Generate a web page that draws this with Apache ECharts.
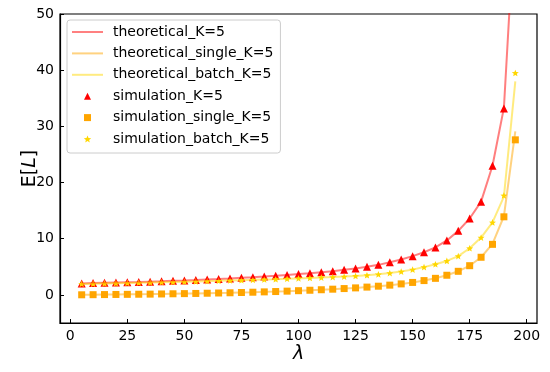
<!DOCTYPE html>
<html>
<head>
<meta charset="utf-8">
<script src="https://cdn.jsdelivr.net/npm/echarts@6/dist/echarts.min.js"></script>
<style>html,body{margin:0;padding:0;background:#fff}#c{width:550px;height:372px}</style>
</head>
<body>
<div id="c"></div>
<script>
const lambdas = [5,10,15,20,25,30,35,40,45,50,55,60,65,70,75,80,85,90,95,100,105,110,115,120,125,130,135,140,145,150,155,160,165,170,175,180,185,190,195];

const theoreticalK5 = [2.05,2.1,2.15,2.2,2.25,2.3,2.36,2.42,2.5,2.57,2.65,2.74,2.83,2.93,3.04,3.15,3.27,3.4,3.55,3.7,3.86,4.03,4.23,4.46,4.72,5.0,5.35,5.8,6.3,6.9,7.6,8.45,9.7,11.4,13.6,16.6,23.0,33.3,69];
const theoreticalSingleK5 = [0.02,0.04,0.06,0.08,0.1,0.12,0.14,0.17,0.2,0.23,0.26,0.3,0.34,0.38,0.43,0.48,0.54,0.6,0.67,0.75,0.83,0.92,1.02,1.13,1.25,1.39,1.55,1.74,1.96,2.22,2.55,2.95,3.5,4.2,5.2,6.7,9.1,14.0,29.1];
const theoreticalBatchK5 = [1.96,2.0,2.04,2.08,2.12,2.16,2.2,2.25,2.3,2.35,2.4,2.45,2.5,2.56,2.62,2.68,2.74,2.8,2.87,2.94,3.01,3.09,3.17,3.26,3.37,3.5,3.66,3.88,4.15,4.5,4.95,5.45,6.05,6.9,8.3,10.2,12.9,17.5,38.0];

const simulationK5 = [2.05,2.1,2.15,2.2,2.25,2.3,2.36,2.42,2.5,2.57,2.65,2.74,2.83,2.93,3.04,3.15,3.27,3.4,3.55,3.7,3.86,4.03,4.23,4.46,4.72,5.0,5.35,5.8,6.3,6.9,7.6,8.45,9.7,11.4,13.6,16.6,23.0,33.2,null];
const simulationSingleK5 = [0.02,0.04,0.06,0.08,0.1,0.12,0.14,0.17,0.2,0.23,0.26,0.3,0.34,0.38,0.43,0.48,0.54,0.6,0.67,0.75,0.83,0.92,1.02,1.13,1.25,1.39,1.55,1.74,1.96,2.22,2.55,2.95,3.5,4.2,5.2,6.7,9.0,13.9,27.6];
const simulationBatchK5 = [1.96,2.0,2.04,2.08,2.12,2.16,2.2,2.25,2.3,2.35,2.4,2.45,2.5,2.56,2.62,2.68,2.74,2.8,2.87,2.94,3.01,3.09,3.17,3.26,3.37,3.5,3.66,3.88,4.15,4.5,4.95,5.45,6.05,6.9,8.3,10.2,12.9,17.7,39.5];

const xTicks = [0,25,50,75,100,125,150,175,200];
const yTicks = [0,10,20,30,40,50];

const pairs = ys => lambdas.map((x,i) => [x, ys[i]]).filter(p => p[1] !== null);
const FONT = 'DejaVu Sans';
const starPath = 'path://M50,0L62.93,32.2L97.55,34.55L70.92,56.8L79.39,90.45L50,72L20.61,90.45L29.08,56.8L2.45,34.55L37.07,32.2Z';
const triPath = 'path://M50,0L100,100L0,100Z';
const sqPath = 'path://M0,0L100,0L100,100L0,100Z';
const linePath = 'path://M0,0L310,0L310,20L0,20Z';

const chart = echarts.init(document.getElementById('c'), null, {renderer:'canvas'});
chart.setOption({
  animation: false,
  backgroundColor: '#fff',
  grid: {left: 60, right: 13, top: 14, bottom: 49, show: true, borderColor: '#000', borderWidth: 1.2, backgroundColor: 'transparent'},
  xAxis: {
    type: 'value', min: -4.5, max: 204.5,
    name: 'λ', nameLocation: 'middle', nameGap: 22, nameMoveOverlap: false,
    nameTextStyle: {fontFamily: FONT, fontSize: 19, fontStyle: 'italic', color: '#000'},
    axisLine: {show: true, onZero: false, lineStyle: {color: '#000', width: 1.2}},
    axisTick: {show: true, inside: true, length: 4, lineStyle: {color: '#000', width: 1}, customValues: xTicks},
    axisLabel: {fontFamily: FONT, fontSize: 14, color: '#000', margin: 6, customValues: xTicks},
    splitLine: {show: false}
  },
  yAxis: {
    type: 'value', min: -5, max: 50,
    name: 'E[{i|L}]', nameLocation: 'middle', nameGap: 20, nameRotate: 90, nameMoveOverlap: false,
    nameTextStyle: {fontFamily: FONT, fontSize: 19, color: '#000', rich: {i: {fontFamily: FONT, fontSize: 19, fontStyle: 'italic', color: '#000'}}},
    axisLine: {show: true, onZero: false, lineStyle: {color: '#000', width: 1.2}},
    axisTick: {show: true, inside: true, length: 4, lineStyle: {color: '#000', width: 1}, customValues: yTicks},
    axisLabel: {fontFamily: FONT, fontSize: 14, color: '#000', margin: 6, customValues: yTicks},
    splitLine: {show: false}
  },
  legend: {
    orient: 'vertical', left: 67, top: 20,
    padding: [5, 7, 7, 5],
    itemWidth: 31, itemHeight: 7, itemGap: 7.4,
    symbolKeepAspect: true,
    backgroundColor: 'rgba(255,255,255,0.8)', borderColor: '#cccccc', borderWidth: 1, borderRadius: 3,
    textStyle: {fontFamily: FONT, fontSize: 14, color: '#000', lineHeight: 14, padding: [0,0,0,5]},
    data: [
      {name: 'theoretical_K=5', icon: linePath, itemStyle: {color: '#ff8080', opacity: 1}},
      {name: 'theoretical_single_K=5', icon: linePath, itemStyle: {color: '#ffd280', opacity: 1}},
      {name: 'theoretical_batch_K=5', icon: linePath, itemStyle: {color: '#ffeb80', opacity: 1}},
      {name: 'simulation_K=5', icon: triPath, itemStyle: {opacity: 1}},
      {name: 'simulation_single_K=5', icon: sqPath, itemStyle: {opacity: 1}},
      {name: 'simulation_batch_K=5', icon: starPath, itemStyle: {opacity: 1}}
    ]
  },
  series: [
    {name: 'theoretical_K=5', type: 'line', data: pairs(theoreticalK5), symbol: 'none', clip: true,
     lineStyle: {color: '#ff0000', opacity: 0.5, width: 2}, itemStyle: {color: '#ff8080'}},
    {name: 'theoretical_single_K=5', type: 'line', data: pairs(theoreticalSingleK5), symbol: 'none', clip: true,
     lineStyle: {color: '#ffa500', opacity: 0.5, width: 2}, itemStyle: {color: '#ffd280'}},
    {name: 'theoretical_batch_K=5', type: 'line', data: pairs(theoreticalBatchK5), symbol: 'none', clip: true,
     lineStyle: {color: '#ffd700', opacity: 0.5, width: 2}, itemStyle: {color: '#ffeb80'}},
    {name: 'simulation_K=5', type: 'scatter', data: pairs(simulationK5), symbol: 'triangle', symbolSize: 8, clip: true,
     itemStyle: {color: '#ff0000', opacity: 1}},
    {name: 'simulation_single_K=5', type: 'scatter', data: pairs(simulationSingleK5), symbol: 'rect', symbolSize: 7, clip: true,
     itemStyle: {color: '#ffa500', opacity: 1}},
    {name: 'simulation_batch_K=5', type: 'scatter', data: pairs(simulationBatchK5), symbol: starPath, symbolKeepAspect: true, symbolSize: 7, clip: true,
     itemStyle: {color: '#ffd700', opacity: 1}}
  ]
});
</script>
</body>
</html>
